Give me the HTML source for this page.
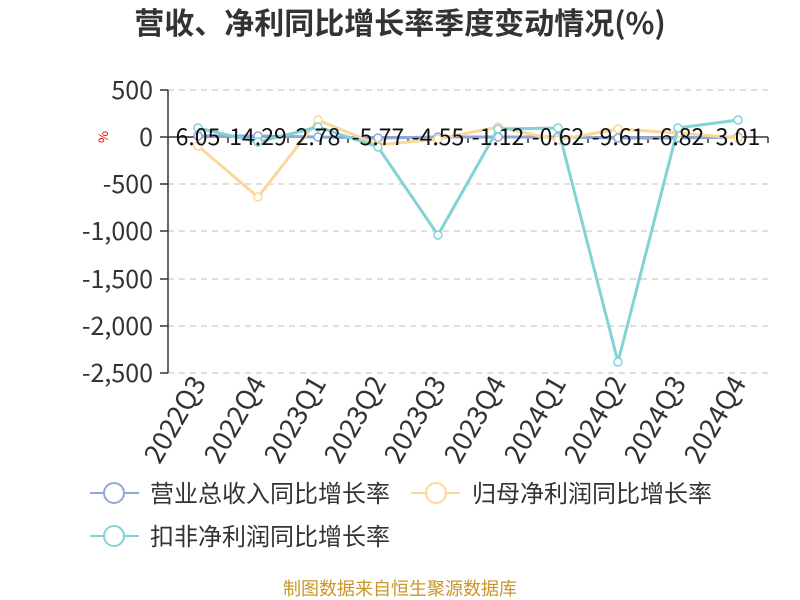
<!DOCTYPE html>
<html><head><meta charset="utf-8"><style>body{margin:0;background:#fff}svg{display:block}text{font-family:"Noto Sans CJK SC","Liberation Sans",sans-serif}</style></head><body>
<svg width="800" height="600" xmlns="http://www.w3.org/2000/svg">
<text x="400" y="34" text-anchor="middle" font-size="30" font-weight="bold" fill="#333">营收、净利同比增长率季度变动情况(%)</text>
<g stroke="#ccc" stroke-dasharray="6,5" stroke-width="1.3">
<line x1="168" y1="90" x2="768" y2="90"/><line x1="168" y1="184" x2="768" y2="184"/><line x1="168" y1="231" x2="768" y2="231"/><line x1="168" y1="279" x2="768" y2="279"/><line x1="168" y1="326" x2="768" y2="326"/><line x1="168" y1="373" x2="768" y2="373"/>
</g>
<g stroke="#333" stroke-width="1.5">
<line x1="168" y1="90" x2="168" y2="373"/>
<line x1="160" y1="90" x2="168" y2="90"/><line x1="160" y1="137" x2="168" y2="137"/><line x1="160" y1="184" x2="168" y2="184"/><line x1="160" y1="231" x2="168" y2="231"/><line x1="160" y1="279" x2="168" y2="279"/><line x1="160" y1="326" x2="168" y2="326"/><line x1="160" y1="373" x2="168" y2="373"/>
<line x1="168" y1="137" x2="768" y2="137"/>
<line x1="228" y1="137" x2="228" y2="143"/><line x1="288" y1="137" x2="288" y2="143"/><line x1="348" y1="137" x2="348" y2="143"/><line x1="408" y1="137" x2="408" y2="143"/><line x1="468" y1="137" x2="468" y2="143"/><line x1="528" y1="137" x2="528" y2="143"/><line x1="588" y1="137" x2="588" y2="143"/><line x1="648" y1="137" x2="648" y2="143"/><line x1="708" y1="137" x2="708" y2="143"/><line x1="768" y1="137" x2="768" y2="143"/>
</g>
<g font-size="25" fill="#333" text-anchor="end">
<text x="153" y="99">500</text><text x="153" y="146">0</text><text x="153" y="193">-500</text><text x="153" y="240">-1,000</text><text x="153" y="288">-1,500</text><text x="153" y="335">-2,000</text><text x="153" y="382">-2,500</text>
</g>
<text x="108" y="137" font-size="13" fill="#e00" transform="rotate(-90 108 137)" text-anchor="middle">%</text>
<g font-size="27" fill="#333" text-anchor="end">
<text transform="translate(207,383) rotate(-60)">2022Q3</text>
<text transform="translate(267,383) rotate(-60)">2022Q4</text>
<text transform="translate(327,383) rotate(-60)">2023Q1</text>
<text transform="translate(387,383) rotate(-60)">2023Q2</text>
<text transform="translate(447,383) rotate(-60)">2023Q3</text>
<text transform="translate(507,383) rotate(-60)">2023Q4</text>
<text transform="translate(567,383) rotate(-60)">2024Q1</text>
<text transform="translate(627,383) rotate(-60)">2024Q2</text>
<text transform="translate(687,383) rotate(-60)">2024Q3</text>
<text transform="translate(747,383) rotate(-60)">2024Q4</text>
</g>
<g fill="#fff" stroke-width="3">
<polyline fill="none" stroke="#8fa8dc" points="198,136 258,136 318,137 378,138 438,137 498,137 558,137 618,138 678,138 738,137"/>
<g stroke="#8fa8dc" stroke-width="1.5"><circle cx="198" cy="136" r="4"/><circle cx="258" cy="136" r="4"/><circle cx="318" cy="137" r="4"/><circle cx="378" cy="138" r="4"/><circle cx="438" cy="137" r="4"/><circle cx="498" cy="137" r="4"/><circle cx="558" cy="137" r="4"/><circle cx="618" cy="138" r="4"/><circle cx="678" cy="138" r="4"/><circle cx="738" cy="137" r="4"/></g>
<polyline fill="none" stroke="#fbd89a" points="198,146 258,197 318,120 378,145 438,139 498,127 558,140 618,129 678,133 738,138"/>
<g stroke="#fbd89a" stroke-width="1.5"><circle cx="198" cy="146" r="4"/><circle cx="258" cy="197" r="4"/><circle cx="318" cy="120" r="4"/><circle cx="378" cy="145" r="4"/><circle cx="438" cy="139" r="4"/><circle cx="498" cy="127" r="4"/><circle cx="558" cy="140" r="4"/><circle cx="618" cy="129" r="4"/><circle cx="678" cy="133" r="4"/><circle cx="738" cy="138" r="4"/></g>
<polyline fill="none" stroke="#82d3d6" points="198,128 258,142 318,127 378,147 438,235 498,129 558,128 618,362 678,128 738,120"/>
<g stroke="#82d3d6" stroke-width="1.5"><circle cx="198" cy="128" r="4"/><circle cx="258" cy="142" r="4"/><circle cx="318" cy="127" r="4"/><circle cx="378" cy="147" r="4"/><circle cx="438" cy="235" r="4"/><circle cx="498" cy="129" r="4"/><circle cx="558" cy="128" r="4"/><circle cx="618" cy="362" r="4"/><circle cx="678" cy="128" r="4"/><circle cx="738" cy="120" r="4"/></g>
</g>
<g font-size="23" fill="#111" text-anchor="middle">
<text x="198" y="145">6.05</text><text x="258" y="145">14.29</text><text x="318" y="145">2.78</text><text x="378" y="145">-5.77</text><text x="438" y="145">-4.55</text><text x="498" y="145">-1.12</text><text x="558" y="145">-0.62</text><text x="618" y="145">-9.61</text><text x="678" y="145">-6.82</text><text x="738" y="145">3.01</text>
</g>
<g stroke-width="2" fill="#fff">
<line x1="90" y1="493" x2="139" y2="493" stroke="#8fa8dc"/><circle cx="114" cy="493" r="10" stroke="#8fa8dc"/>
<line x1="411" y1="493" x2="460" y2="493" stroke="#fbd89a"/><circle cx="436" cy="493" r="10" stroke="#fbd89a"/>
<line x1="90" y1="536" x2="139" y2="536" stroke="#82d3d6"/><circle cx="114" cy="536" r="10" stroke="#82d3d6"/>
</g>
<g font-size="24" fill="#333">
<text x="150" y="502">营业总收入同比增长率</text>
<text x="472" y="502">归母净利润同比增长率</text>
<text x="150" y="545">扣非净利润同比增长率</text>
</g>
<text x="400" y="595" text-anchor="middle" font-size="18" fill="#c8962a">制图数据来自恒生聚源数据库</text>
</svg>
</body></html>
